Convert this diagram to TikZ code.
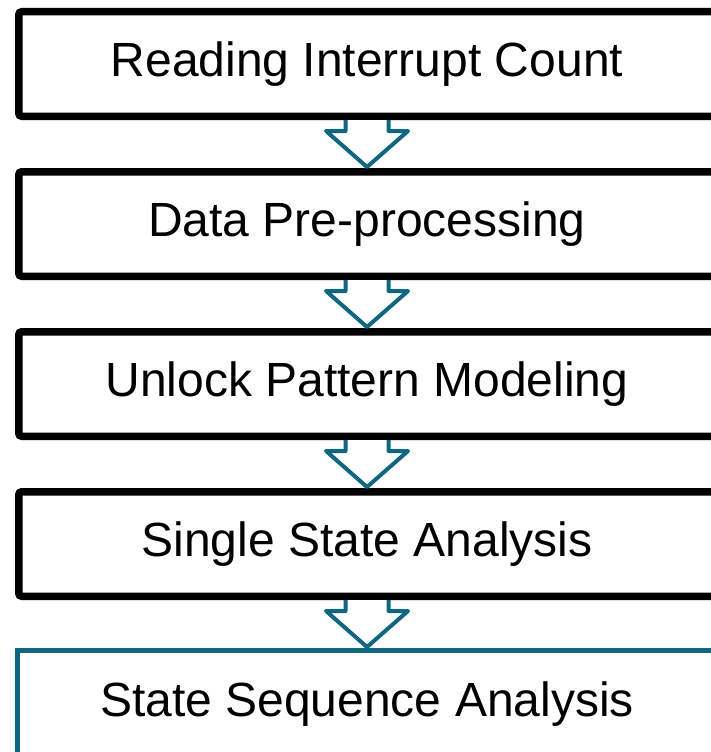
\documentclass[tikz,border=0pt]{standalone}
\usepackage{fontspec}
\setmainfont{Liberation Sans}
\usetikzlibrary{calc}
\definecolor{flow}{RGB}{14,102,128}
\tikzset{
  every node/.style={font=\fontsize{48}{58}\selectfont,inner sep=0pt},
  stage/.style={draw=black,line width=7.5pt,rounded corners=3pt,
    minimum width=696.5pt,minimum height=104.5pt},
  last/.style={draw=flow,line width=4.5pt,
    minimum width=699.5pt,minimum height=107.5pt},
  blockarrow/.style={draw=flow,line width=4pt,line join=round,fill=white},
}

\begin{document}
\begin{tikzpicture}[x=1pt,y=1pt]
  \useasboundingbox (0,0) rectangle (710,-752);

  % stages (pitch 160 pt)
  \node[stage] (read)   at (367,-64)  {Reading Interrupt Count};
  \node[stage] (prep)   at (367,-224) {Data Pre-processing};
  \node[stage] (model)  at (367,-384) {Unlock Pattern Modeling};
  \node[stage] (single) at (367,-544) {Single State Analysis};
  \node[last]  (seq)    at (367,-704) {State Sequence Analysis};

  % hollow arrows between stages
  \foreach \a/\b in {read/prep,prep/model,model/single,single/seq}{
    \draw[blockarrow]
      ($(\a.south)+(-21.5,0)$) -- ($(\a.south)+(-21.5,-11)$)
      -- ($(\a.south)+(-41,-11)$) -- ($(\b.north)+(0,1)$)
      -- ($(\a.south)+(41,-11)$) -- ($(\a.south)+(21.5,-11)$)
      -- ($(\a.south)+(21.5,0)$);
  }
\end{tikzpicture}
\end{document}
